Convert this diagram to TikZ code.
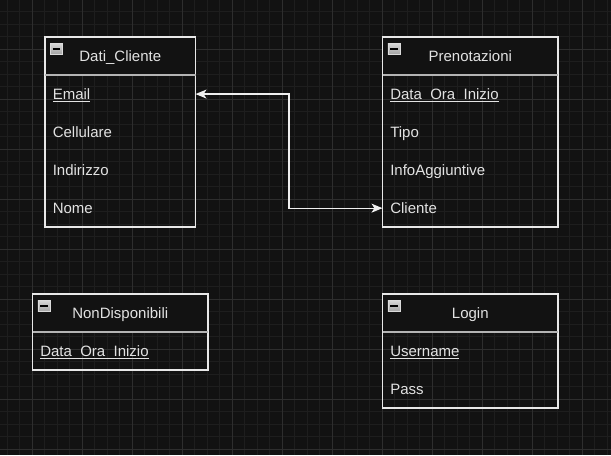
\documentclass[tikz,border=0pt]{standalone}
\usepackage{fontspec}
\setmainfont{Liberation Sans}
\usetikzlibrary{arrows.meta}
\definecolor{bg}{HTML}{121212}
\definecolor{gridminor}{HTML}{1E1E1E}
\definecolor{gridmajor}{HTML}{2E2E2E}
\definecolor{fg}{HTML}{E2E2E2}
\definecolor{boxline}{HTML}{E8E8E8}
\definecolor{sepcol}{HTML}{B4B4B4}
\definecolor{conncol}{HTML}{F0F0F0}
\newcommand\keyul[1]{\setbox0=\hbox{#1}\rlap{\rule[-2.0pt]{\wd0}{0.75pt}}\box0}
\tikzset{
  tfont/.style={font=\fontsize{11.25pt}{13pt}\selectfont, text=fg},
  hdr/.style={tfont, anchor=north west, minimum height=28.125pt, inner sep=0pt, fill=bg, text height=8.05pt, text depth=0pt},
  wA/.style={minimum width=112.5pt},
  wB/.style={minimum width=131.25pt},
  rowbase/.style={tfont, anchor=north west, minimum height=28.125pt, inner xsep=5.625pt, inner ysep=0pt, text height=8.05pt, text depth=0pt},
  rowA/.style={rowbase, execute at begin node={\hbox to 101.25pt\bgroup}, execute at end node={\hfil\egroup}},
  rowB/.style={rowbase, execute at begin node={\hbox to 120pt\bgroup}, execute at end node={\hfil\egroup}},
  icon/.style={anchor=north west, inner sep=0pt, minimum width=9pt, minimum height=8.25pt, top color=white!84!black, bottom color=white!64!black, draw=white!86!black, line width=0.7pt,
    path picture={\draw[black, line width=1pt] ([xshift=1.6pt]path picture bounding box.west) -- ([xshift=-1.6pt]path picture bounding box.east);}},
  boxborder/.style={draw=boxline, line width=1.1pt},
  sepline/.style={draw=sepcol, line width=1.5pt},
  conn/.style={draw=conncol, line width=0.95pt, {Stealth[length=8.25pt,width=6.75pt,inset=2.2pt]}-{Stealth[length=8.25pt,width=6.75pt,inset=2.2pt]}},
  minorline/.style={draw=gridminor, line width=0.75pt},
  majorline/.style={draw=gridmajor, line width=0.75pt}
}
\begin{document}
\begin{tikzpicture}[x=0.75pt, y=-0.75pt]
\fill[bg] (0,0) rectangle (611,455);
\useasboundingbox (0,0) rectangle (611,455);
\begin{scope}
\clip (0,0) rectangle (611,455);
\foreach \i in {-3,...,46} \draw[minorline] ({32+12.5*\i},0) -- ({32+12.5*\i},455);
\foreach \j in {-4,...,33} \draw[minorline] (0,{49+12.5*\j}) -- (611,{49+12.5*\j});
\foreach \i in {-1,...,11} \draw[majorline] ({32+50*\i},0) -- ({32+50*\i},455);
\foreach \j in {-1,...,8} \draw[majorline] (0,{49+50*\j}) -- (611,{49+50*\j});
\end{scope}

% Dati_Cliente
\node[hdr, wA] (dc) at (45,37) {Dati\_Cliente};
\node[rowA] (dc-email) at (dc.south west) {\keyul{Email}};
\node[rowA] (dc-cell) at (dc-email.south west) {Cellulare};
\node[rowA] (dc-ind) at (dc-cell.south west) {Indirizzo};
\node[rowA] (dc-nome) at (dc-ind.south west) {Nome};
\draw[boxborder] (dc.north west) rectangle (dc-nome.south east);
\draw[sepline] (dc.south west) -- (dc.south east);
\node[icon] (dc-icon) at ([xshift=3.75pt,yshift=-4.5pt]dc.north west) {};

% Prenotazioni
\node[hdr, wB] (pr) at (382.5,37) {Prenotazioni};
\node[rowB] (pr-data) at (pr.south west) {\keyul{Data\_Ora\_Inizio}};
\node[rowB] (pr-tipo) at (pr-data.south west) {Tipo};
\node[rowB] (pr-info) at (pr-tipo.south west) {InfoAggiuntive};
\node[rowB] (pr-cliente) at (pr-info.south west) {Cliente};
\draw[boxborder] (pr.north west) rectangle (pr-cliente.south east);
\draw[sepline] (pr.south west) -- (pr.south east);
\node[icon] (pr-icon) at ([xshift=3.75pt,yshift=-4.5pt]pr.north west) {};

% NonDisponibili
\node[hdr, wB] (nd) at (32.5,294) {NonDisponibili};
\node[rowB] (nd-data) at (nd.south west) {\keyul{Data\_Ora\_Inizio}};
\draw[boxborder] (nd.north west) rectangle (nd-data.south east);
\draw[sepline] (nd.south west) -- (nd.south east);
\node[icon] (nd-icon) at ([xshift=3.75pt,yshift=-4.5pt]nd.north west) {};

% Login
\node[hdr, wB] (lg) at (382.5,294) {Login};
\node[rowB] (lg-user) at (lg.south west) {\keyul{Username}};
\node[rowB] (lg-pass) at (lg-user.south west) {Pass};
\draw[boxborder] (lg.north west) rectangle (lg-pass.south east);
\draw[sepline] (lg.south west) -- (lg.south east);
\node[icon] (lg-icon) at ([xshift=3.75pt,yshift=-4.5pt]lg.north west) {};

% connector
\coordinate (mid) at (289,150);
\draw[conn] (dc-email.east) -| (mid) |- (pr-cliente.west);
\end{tikzpicture}
\end{document}
